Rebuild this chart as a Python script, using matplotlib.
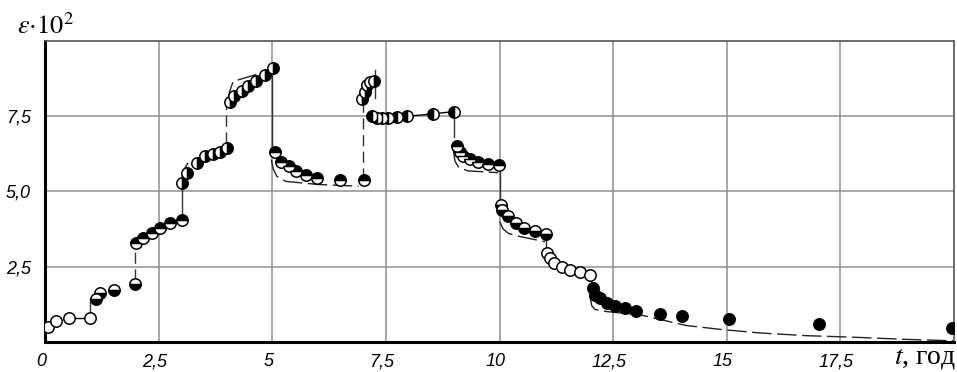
import matplotlib
matplotlib.use("Agg")
import matplotlib.pyplot as plt
import matplotlib.transforms as mtransforms

plt.rcParams['mathtext.fontset'] = 'stix'

# measured points, grouped by loading stage (t in years, eps*10^2)
t_g1 = [0.07, 0.24, 0.53, 1.0]
e_g1 = [0.51, 0.69, 0.81, 0.81]
t_g2 = [1.12, 1.21, 1.52, 1.98]
e_g2 = [1.43, 1.62, 1.73, 1.92]
t_g3 = [2.0, 2.16, 2.35, 2.52, 2.75, 3.01]
e_g3 = [3.3, 3.44, 3.61, 3.80, 3.94, 4.05]
t_g4 = [3.01, 3.12, 3.34, 3.52, 3.70, 3.85, 4.01]
e_g4 = [5.29, 5.6, 5.94, 6.16, 6.25, 6.32, 6.43]
t_g5 = [4.06, 4.16, 4.33, 4.47, 4.65, 4.84, 5.02]
e_g5 = [7.98, 8.15, 8.32, 8.50, 8.65, 8.87, 9.11]
t_g6 = [5.05, 5.2, 5.36, 5.53, 5.75, 5.99, 6.48, 7.01]
e_g6 = [6.29, 5.99, 5.84, 5.66, 5.55, 5.44, 5.38, 5.38]
t_g7 = [6.98, 7.03, 7.08, 7.15, 7.24]
e_g7 = [8.05, 8.3, 8.52, 8.62, 8.65]
t_g8 = [7.19, 7.3, 7.41, 7.55, 7.74, 7.96, 8.53, 9.0]
e_g8 = [7.49, 7.43, 7.43, 7.43, 7.46, 7.49, 7.57, 7.65]
t_g9 = [9.06, 9.12, 9.2, 9.35, 9.52, 9.74, 9.99]
e_g9 = [6.52, 6.29, 6.16, 6.07, 5.99, 5.91, 5.86]
t_g10 = [10.03, 10.06, 10.19, 10.36, 10.54, 10.78, 11.02]
e_g10 = [4.55, 4.38, 4.19, 3.94, 3.80, 3.69, 3.59]
t_g11 = [11.04, 11.11, 11.2, 11.37, 11.54, 11.77, 12.0]
e_g11 = [2.95, 2.78, 2.63, 2.48, 2.39, 2.34, 2.23]
t_g12 = [12.05, 12.1, 12.21, 12.36, 12.54, 12.76, 13.0, 13.52, 14.02, 15.05, 17.03, 19.96]
e_g12 = [1.78, 1.56, 1.45, 1.31, 1.2, 1.12, 1.03, 0.93, 0.87, 0.76, 0.59, 0.48]

# calculated curves (dashed)
t_m3 = [2.05, 2.1, 2.2]
e_m3 = [3.42, 3.52, 3.58]
t_m4 = [3.0, 3.05, 3.15, 3.4, 3.75]
e_m4 = [5.35, 5.7, 5.95, 6.13, 6.33]
t_m5 = [4.02, 4.06, 4.14, 4.88]
e_m5 = [8.0, 8.3, 8.65, 8.98]
t_m6 = [4.98, 5.02, 5.1, 5.3, 6.0, 6.9]
e_m6 = [6.05, 5.75, 5.5, 5.33, 5.23, 5.17]
t_m9 = [8.98, 9.02, 9.1, 9.3, 9.97]
e_m9 = [6.4, 6.0, 5.8, 5.68, 5.62]
t_m10 = [10.0, 10.08, 10.2, 10.45, 11.0]
e_m10 = [4.0, 3.75, 3.6, 3.5, 3.33]
t_m11 = [10.98, 11.03, 11.25, 11.75, 11.98]
e_m11 = [3.0, 2.72, 2.45, 2.27, 2.15]
t_m12 = [11.98, 12.03, 12.1, 12.36, 13.1, 14.1, 14.85, 15.73, 16.76, 17.78, 18.9, 20.0]
e_m12 = [1.56, 1.2, 1.08, 1.01, 0.9, 0.55, 0.42, 0.3, 0.21, 0.16, 0.09, 0.04]

# jumps between stages: t, eps from, eps to
jumps_solid = [(1.0, 0.81, 1.45), (3.01, 4.05, 5.29), (5.0, 9.11, 6.25), (7.26, 8.1, 9.04),
               (9.0, 7.65, 6.8), (10.0, 5.86, 4.55), (11.02, 3.59, 2.95), (12.02, 2.23, 1.78)]
jumps_dash = [(1.98, 2.05, 3.2), (3.98, 6.6, 7.9), (7.0, 5.42, 8.0)]

ticks = [0, 2.5, 5, 7.5, 10, 12.5, 15, 17.5]
xtick_labels = ["0", "2,5", "5", "7,5", "10", "12,5", "15", "17,5"]
yticks = [2.5, 5.0, 7.5]
ytick_labels = ["2,5", "5,0", "7,5"]

fig = plt.figure(figsize=(9.57, 3.72), dpi=100)
ax = fig.add_axes([0.047, 0.0806, 0.95, 0.81])
ax.set_xlim(0, 20)
ax.set_ylim(0, 10)

for x in ticks[1:]:
    ax.axvline(x, color='#909090', lw=1.1, zorder=0)
for y in yticks:
    ax.axhline(y, color='#909090', lw=1.1, zorder=0)

dash = (0, (14, 4))
for tm, em in [(t_m3, e_m3), (t_m4, e_m4), (t_m5, e_m5), (t_m6, e_m6), (t_m9, e_m9),
               (t_m10, e_m10), (t_m11, e_m11), (t_m12, e_m12)]:
    ax.plot(tm, em, color='#222222', lw=1.0, linestyle=dash, zorder=2)

for x, a, b in jumps_solid:
    ax.plot([x, x], [a, b], color='#333333', lw=1.0, zorder=1)
for x, a, b in jumps_dash:
    ax.plot([x, x], [a, b], color='#333333', lw=1.0, linestyle=(0, (8, 4)), zorder=1)

# connecting lines through points
ax.plot(t_g1[2:], e_g1[2:], color='black', lw=1.0, zorder=2)
ax.plot(t_g8[3:], e_g8[3:], color='black', lw=1.0, zorder=2)

groups = [(t_g1, e_g1, 'none'), (t_g2, e_g2, 'bottom'), (t_g3, e_g3, 'top'),
          (t_g4, e_g4, 'right'), (t_g5, e_g5, 'right'), (t_g6, e_g6, 'top'),
          (t_g7, e_g7, 'right'), (t_g8, e_g8, 'left'), (t_g9, e_g9, 'top'),
          (t_g10, e_g10, 'bottom'), (t_g11, e_g11, 'none'), (t_g12, e_g12, 'full')]
for tg, eg, fs in groups:
    if fs == 'none':
        ax.plot(tg, eg, 'o', ms=8.2, mfc='white', mec='black', mew=1.1, zorder=3)
    else:
        ax.plot(tg, eg, 'o', ms=8.2, fillstyle=fs, mfc='black', mfcalt='white',
                mec='black', mew=1.1, zorder=3)

ax.set_xticks(ticks)
ax.set_xticklabels(xtick_labels, fontfamily='Liberation Sans', fontstyle='italic', fontsize=13)
ax.set_yticks(yticks)
ax.set_yticklabels(ytick_labels, fontfamily='Liberation Sans', fontstyle='italic', fontsize=13)
ax.tick_params(axis='x', length=0, pad=8)
ax.tick_params(axis='y', length=0, pad=10)
shift = mtransforms.ScaledTranslation(-4 / 100, 0, fig.dpi_scale_trans)
for lbl in ax.get_xticklabels():
    lbl.set_transform(lbl.get_transform() + shift)

for s in ['left', 'bottom']:
    ax.spines[s].set_linewidth(2.2)
    ax.spines[s].set_color('black')
for s in ['top', 'right']:
    ax.spines[s].set_linewidth(1.2)
    ax.spines[s].set_color('#555555')

fig.text(0.018, 0.893, r"$\varepsilon{\cdot}10^2$", fontsize=19, ha='left', va='bottom')
fig.text(0.999, 0.003, r"$t$, год", fontfamily='Liberation Serif', fontsize=20,
         ha='right', va='bottom')

fig.savefig("out.png", dpi=100)
